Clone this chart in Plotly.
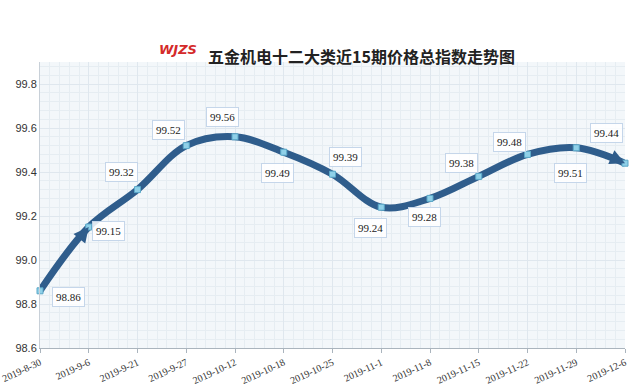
import plotly.graph_objects as go

dates = ["2019-8-30", "2019-9-6", "2019-9-21", "2019-9-27", "2019-10-12", "2019-10-18",
         "2019-10-25", "2019-11-1", "2019-11-8", "2019-11-15", "2019-11-22", "2019-11-29", "2019-12-6"]
values = [98.86, 99.15, 99.32, 99.52, 99.56, 99.49, 99.39, 99.24, 99.28, 99.38, 99.48, 99.51, 99.44]
# label offsets (pixels) from each point
label_dx = [28, 20, -16, -18, -13, -6, 13, -11, -6, -17, -18, -6, -19]
label_dy = [6, 4, -18, -16, -20, 21, -17, 21, 19, -13, -12, 25, -30]

xs = list(range(len(dates)))
line_color = "#2f5d8c"

fig = go.Figure()
fig.add_trace(go.Scatter(
    x=xs, y=values, mode="lines",
    line=dict(color=line_color, width=7, shape="spline", smoothing=1.0),
    hoverinfo="skip", showlegend=False, cliponaxis=False))
fig.add_trace(go.Scatter(
    x=xs, y=values, mode="markers",
    marker=dict(symbol="square", size=6, color="#8fd0e8", line=dict(color="#5aa8c8", width=1)),
    showlegend=False, cliponaxis=False))

annotations = []
for i, (v, dx, dy) in enumerate(zip(values, label_dx, label_dy)):
    annotations.append(dict(
        x=xs[i], y=v, text=f"{v:.2f}", showarrow=False, xshift=dx, yshift=-dy,
        font=dict(family="Liberation Serif, Times New Roman, serif", size=11, color="#222"),
        bgcolor="rgba(255,255,255,0.85)", bordercolor="#c5d6ea", borderwidth=1, borderpad=3))

# arrowheads
annotations.append(dict(x=xs[-1], y=values[-1], ax=-20, ay=-9, showarrow=True,
                        arrowhead=2, arrowsize=0.75, arrowwidth=4, arrowcolor=line_color,
                        text="", standoff=0))
annotations.append(dict(x=xs[1], y=values[1], ax=-12, ay=15, showarrow=True,
                        arrowhead=2, arrowsize=0.75, arrowwidth=4, arrowcolor=line_color,
                        text="", standoff=0))

# title
annotations.append(dict(xref="paper", yref="paper", x=0.55, y=1.0, yshift=20, showarrow=False,
                        text="<b>五金机电十二大类近15期价格总指数走势图</b>",
                        font=dict(family="Noto Sans CJK SC", size=16, color="#222")))
annotations.append(dict(xref="paper", yref="paper", x=0.2, y=1.0, yshift=22, showarrow=False,
                        text="<b><i>WJZS</i></b>",
                        font=dict(family="DejaVu Sans", size=13, color="#d42a2a")))

fig.update_layout(
    width=639, height=390,
    margin=dict(l=40, r=14, t=62, b=42, autoexpand=False),
    paper_bgcolor="white", plot_bgcolor="#f3f7fa",
    annotations=annotations,
    xaxis=dict(range=[0, 12], tickmode="array", tickvals=xs, ticktext=dates, tickangle=-25,
               tickfont=dict(family="Liberation Serif", size=10, color="#333"),
               showgrid=True, gridcolor="#dfe7ee", gridwidth=1,
               minor=dict(dtick=0.2, showgrid=True, gridcolor="#e6edf2", gridwidth=1),
               showline=True, linecolor="#aab4bd", ticks="outside", ticklen=4, tickcolor="#aab4bd",
               zeroline=False, fixedrange=True, automargin=False),
    yaxis=dict(range=[98.6, 99.9], tickmode="array", tickvals=[98.6, 98.8, 99.0, 99.2, 99.4, 99.6, 99.8],
               ticktext=["98.6", "98.8", "99.0", "99.2", "99.4", "99.6", "99.8"],
               tickfont=dict(family="Liberation Sans", size=11, color="#333"),
               showgrid=True, gridcolor="#dfe7ee",
               minor=dict(dtick=0.04, tick0=98.6, showgrid=True, gridcolor="#e6edf2", gridwidth=1),
               showline=True, linecolor="#c8d0d8", ticks="", zeroline=False, fixedrange=True,
               automargin=False),
)
fig.write_html("out.html", config={"displayModeBar": False},
               post_script="document.body.style.margin='0';")
